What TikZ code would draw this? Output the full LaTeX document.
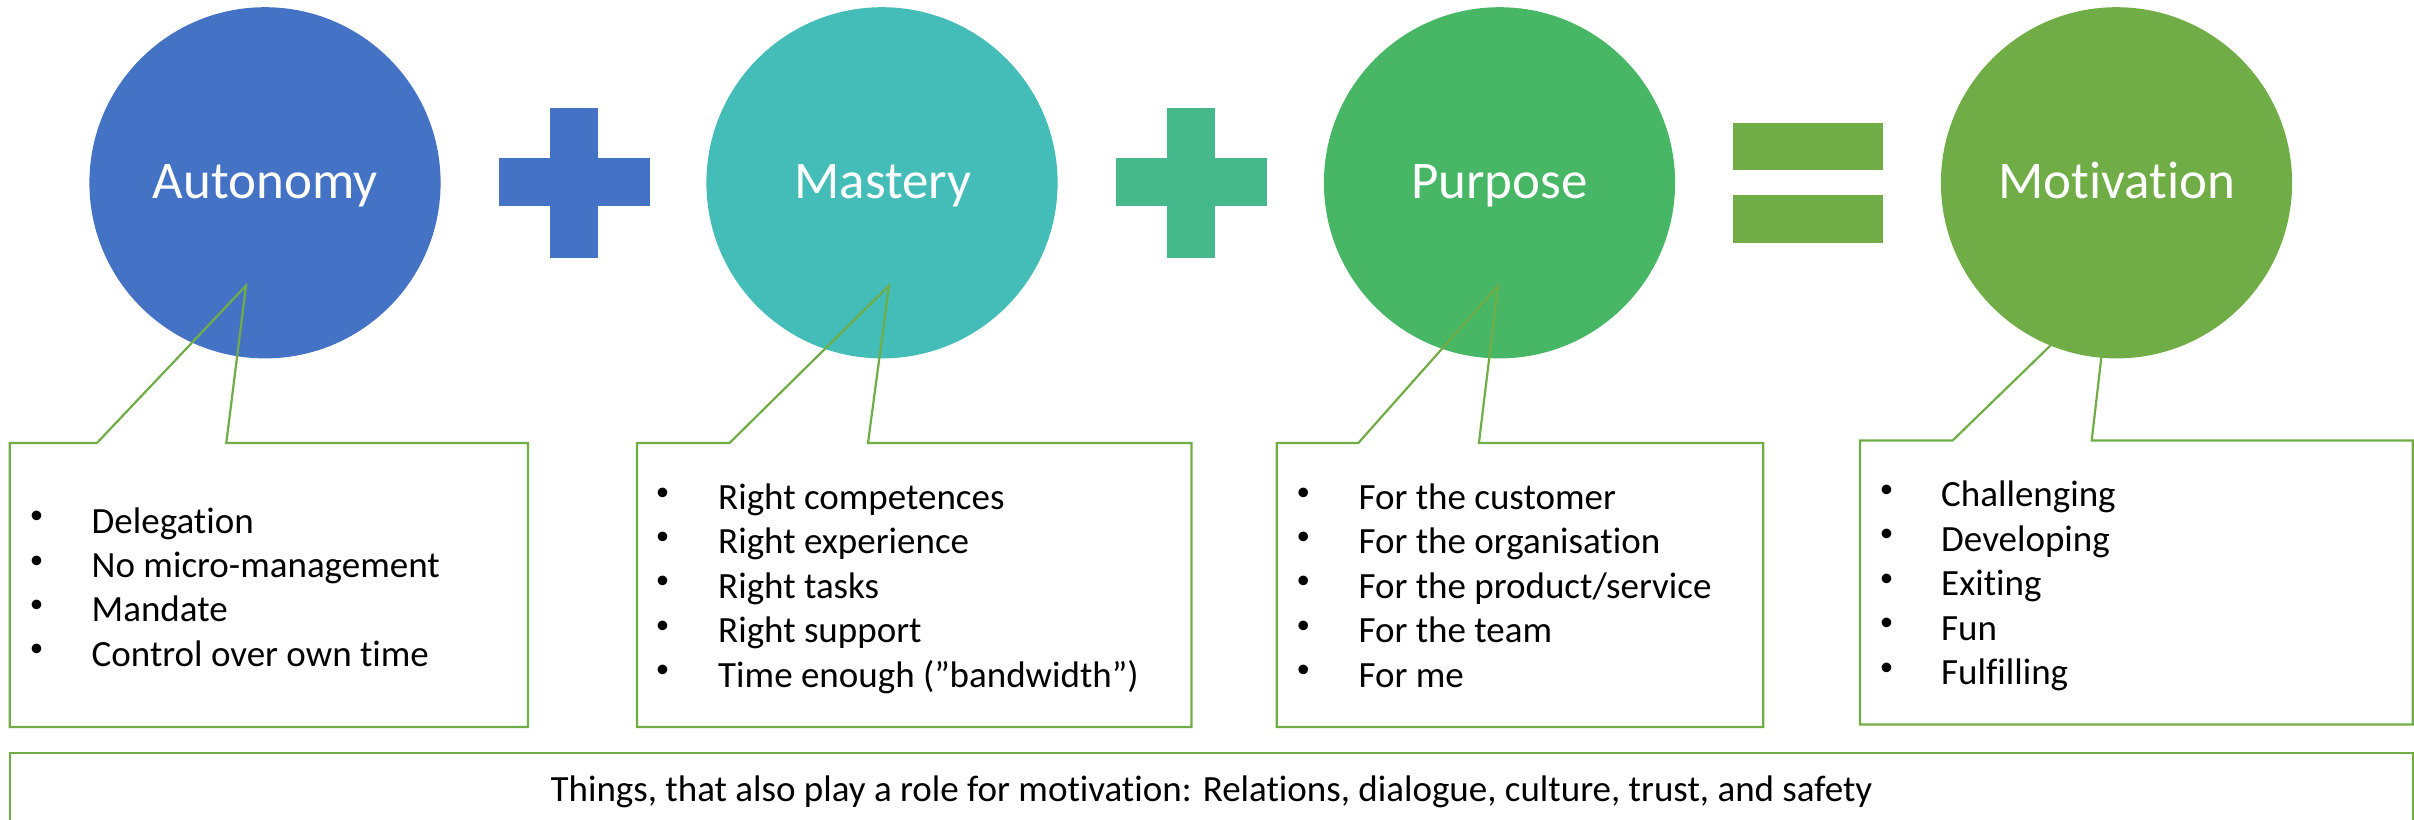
\documentclass[tikz,border=0pt]{standalone}
\usepackage{fontspec}
\setmainfont{Carlito}[RawFeature={-liga;-clig;-calt;-dlig}]
\definecolor{cblue}{RGB}{68,114,196}
\definecolor{cteal}{RGB}{68,189,184}
\definecolor{cplus}{RGB}{69,185,139}
\definecolor{cpurp}{RGB}{71,182,101}
\definecolor{cgreen}{RGB}{112,173,71}
\begin{document}
\begin{tikzpicture}[x=1pt,y=-1pt,
  bubble/.style={circle,minimum size=351.2pt,inner sep=0pt,draw=none},
  title/.style={anchor=base,text=white,inner sep=0pt,font=\fontsize{53}{60}\selectfont},
  callout/.style={draw=cgreen,line width=2.2pt,line join=miter},
  item/.style={anchor=base west,inner sep=0pt,font=\fontsize{37}{44}\selectfont},
  bul/.style={anchor=center,inner sep=0pt,font=\fontsize{27}{30}\selectfont},
]
\useasboundingbox (0,0) rectangle (2414,819);

% circles
\node[bubble,fill=cblue] (c1) at (265,182.8) {};
\node[bubble,fill=cteal] (c2) at (882,182.8) {};
\node[bubble,fill=cpurp] (c3) at (1499.5,182.8) {};
\node[bubble,fill=cgreen] (c4) at (2116.5,182.8) {};
\node[title] (t1) at (265,198.5) {Autonomy};
\node[title] (t2) at (883,198.5) {Mastery};
\node[title] (t3) at (1499.5,198.5) {Purpose};
\node[title] (t4) at (2116.5,198.5) {Motivation};

% plus signs and equals
\fill[cblue] (498.7,158.3) rectangle (649.6,206.3);
\fill[cblue] (550,107.6) rectangle (598.2,258);
\fill[cplus] (1115.6,158.3) rectangle (1266.5,206.3);
\fill[cplus] (1167,107.6) rectangle (1215,258);
\fill[cgreen] (1732.6,122.7) rectangle (1883.4,170.3);
\fill[cgreen] (1732.6,194.8) rectangle (1883.4,242.9);

% callouts
\draw[callout] (9.8,443) -- (96.9,443) -- (246,285.7) -- (226.3,443) -- (528,443) -- (528,727) -- (9.8,727) -- cycle;
\draw[callout] (637,443) -- (729.5,443) -- (889,285.7) -- (868,443) -- (1191.5,443) -- (1191.5,727) -- (637,727) -- cycle;
\draw[callout] (1276.8,443) -- (1358.3,443) -- (1498,285.7) -- (1478.9,443) -- (1763.2,443) -- (1763.2,727) -- (1276.8,727) -- cycle;
\draw[callout] (1859.9,440.4) -- (1952.7,440.4) -- (2109.3,288.4) -- (2091.7,440.4) -- (2412.8,440.4) -- (2412.8,724.5) -- (1859.9,724.5) -- cycle;

% items
\foreach \t [count=\j] in {Delegation, No micro-management, Mandate, Control over own time}{
  \node[bul] (ab\j) at (36.6,{533-15.5+44.4*(\j-1)}) {•};
  \node[item] (a\j) at (91.5,{533+44.4*(\j-1)}) {\t};
}
\foreach \t [count=\j] in {Right competences, Right experience, Right tasks, Right support, Time enough (”bandwidth”)}{
  \node[bul] (mb\j) at (662.5,{509.4-15.5+44.4*(\j-1)}) {•};
  \node[item] (m\j) at (718,{509.4+44.4*(\j-1)}) {\t};
}
\foreach \t [count=\j] in {For the customer, For the organisation, For the product/service, For the team, For me}{
  \node[bul] (pb\j) at (1303.3,{509.4-15.5+44.4*(\j-1)}) {•};
  \node[item] (p\j) at (1358.3,{509.4+44.4*(\j-1)}) {\t};
}
\foreach \t [count=\j] in {Challenging, Developing, Exiting, Fun, Fulfilling}{
  \node[bul] (vb\j) at (1886.5,{506.8-15.5+44.4*(\j-1)}) {•};
  \node[item] (v\j) at (1941,{506.8+44.4*(\j-1)}) {\t};
}

% bottom box
\draw[callout] (10,753.3) rectangle (2412.7,845);
\node[anchor=base,inner sep=0pt,font=\fontsize{37}{44}\selectfont] (bt) at (1211.5,801) {Things, that also play a role for motivation: Relations, dialogue, culture, trust, and safety};
\end{tikzpicture}
\end{document}
